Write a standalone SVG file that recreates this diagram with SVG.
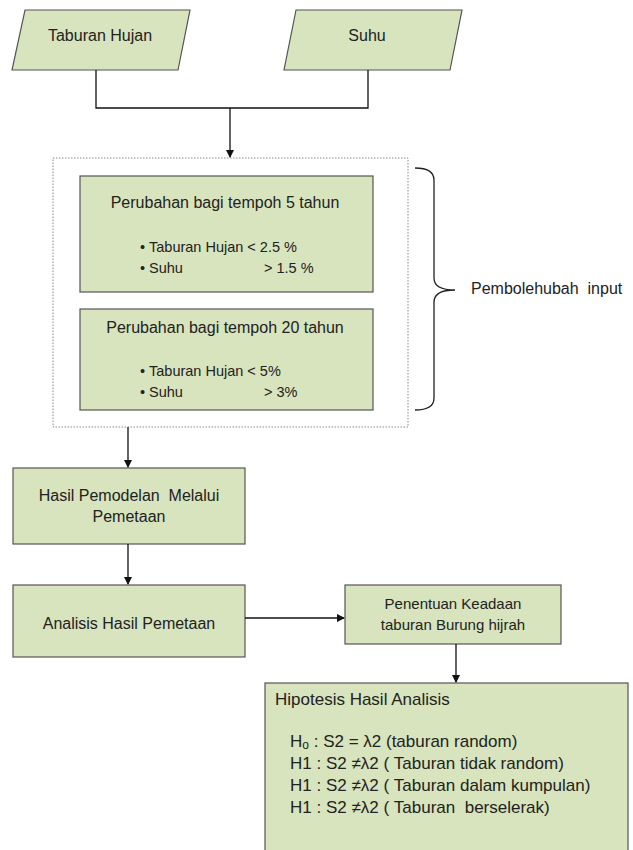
<svg xmlns="http://www.w3.org/2000/svg" width="633" height="850" viewBox="0 0 633 850">
<defs>
<marker id="ah" markerWidth="8" markerHeight="8" refX="7" refY="4" orient="auto" markerUnits="userSpaceOnUse">
<path d="M0,0 L8,4 L0,8 Z" fill="#111"/>
</marker>
<style>
.n{fill:#d7e4bd;stroke:#555;stroke-width:1.2}
.t{font-family:"Liberation Sans",Arial,sans-serif;font-size:15px;fill:#222}
.s{font-size:14.5px}
.b{font-size:16px}
.h{font-size:17px}
.c{stroke:#111;stroke-width:1.3;fill:none}
.m{text-anchor:middle}
</style>
</defs>
<rect width="633" height="850" fill="#fff"/>
<g id="taburan-hujan">
<polygon class="n" points="25,10 190,10 178,70 12,70"/>
<text class="t b m" x="100" y="41">Taburan Hujan</text>
</g>
<g id="suhu">
<polygon class="n" points="296,10 462,10 450,70 284,70"/>
<text class="t b m" x="367" y="41">Suhu</text>
</g>
<g id="input-group">
<rect x="53" y="158" width="355" height="269" fill="#fff" stroke="#888" stroke-width="1" stroke-dasharray="1.5,1.5"/>
</g>
<g id="tempoh5">
<rect class="n" x="80" y="176" width="293" height="116"/>
<text class="t b m" x="225" y="208">Perubahan bagi tempoh 5 tahun</text>
<text class="t s" x="140" y="252">•</text>
<text class="t s" x="149" y="252" xml:space="preserve">Taburan Hujan &lt; 2.5 %</text>
<text class="t s" x="140" y="273">•</text>
<text class="t s" x="149" y="273">Suhu</text>
<text class="t s" x="264" y="273">&gt; 1.5 %</text>
</g>
<g id="tempoh20">
<rect class="n" x="80" y="309" width="293" height="101"/>
<text class="t b m" x="225" y="333">Perubahan bagi tempoh 20 tahun</text>
<text class="t s" x="140" y="376">•</text>
<text class="t s" x="149" y="376">Taburan Hujan &lt; 5%</text>
<text class="t s" x="140" y="397">•</text>
<text class="t s" x="149" y="397">Suhu</text>
<text class="t s" x="264" y="397">&gt; 3%</text>
</g>
<g id="brace">
<path d="M415,168 Q434,168 434,180 L434,278 Q434,290 455,290 Q434,290 434,302 L434,398 Q434,410 415,410" fill="none" stroke="#222" stroke-width="1.3"/>
<text class="t b" x="471" y="294" xml:space="preserve">Pembolehubah  input</text>
</g>
<g id="hasil-pemodelan">
<rect class="n" x="13" y="468" width="232" height="76"/>
<text class="t b m" x="129" y="501" xml:space="preserve">Hasil Pemodelan  Melalui</text>
<text class="t b m" x="129" y="522">Pemetaan</text>
</g>
<g id="analisis">
<rect class="n" x="13" y="585" width="232" height="72"/>
<text class="t b m" x="129" y="629">Analisis Hasil Pemetaan</text>
</g>
<g id="penentuan">
<rect class="n" x="345" y="585" width="216" height="59"/>
<text class="t m" x="453" y="609">Penentuan Keadaan</text>
<text class="t m" x="453" y="630">taburan Burung hijrah</text>
</g>
<g id="hipotesis">
<rect class="n" x="265" y="683" width="363" height="175"/>
<text class="t h" x="275" y="705">Hipotesis Hasil Analisis</text>
<text class="t h" x="290" y="747">H<tspan font-size="12" dy="2">o</tspan><tspan dy="-2"> : S2 = λ2 (taburan random)</tspan></text>
<text class="t h" x="290" y="769">H1 : S2 ≠λ2 ( Taburan tidak random)</text>
<text class="t h" x="290" y="791">H1 : S2 ≠λ2 ( Taburan dalam kumpulan)</text>
<text class="t h" x="290" y="813" xml:space="preserve">H1 : S2 ≠λ2 ( Taburan  berselerak)</text>
</g>
<g id="connectors">
<polyline class="c" points="96,70 96,108 368,108 368,70"/>
<line class="c" x1="230" y1="108" x2="230" y2="157" marker-end="url(#ah)"/>
<line class="c" x1="128" y1="427" x2="128" y2="467" marker-end="url(#ah)"/>
<line class="c" x1="128" y1="544" x2="128" y2="584" marker-end="url(#ah)"/>
<line class="c" x1="245" y1="618" x2="344" y2="618" marker-end="url(#ah)"/>
<line class="c" x1="456" y1="644" x2="456" y2="682" marker-end="url(#ah)"/>
</g>
</svg>
